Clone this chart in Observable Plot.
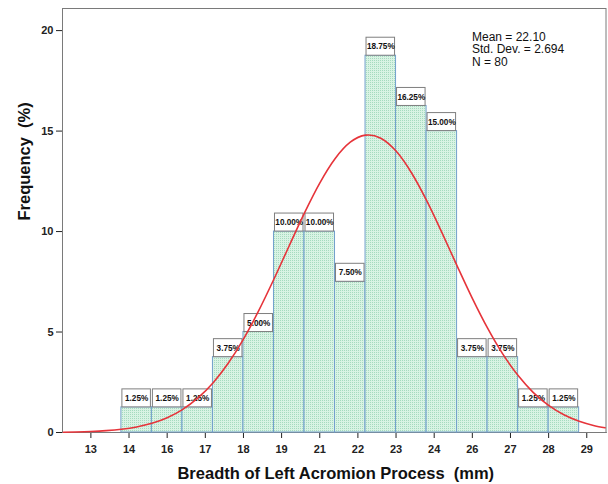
<!DOCTYPE html>
<html>
<head>
<meta charset="utf-8">
<script src="https://cdn.jsdelivr.net/npm/d3@7"></script>
<script src="https://cdn.jsdelivr.net/npm/@observablehq/plot@0.6"></script>
<style>
  html, body { margin: 0; padding: 0; background: #fff; }
  svg text { white-space: pre; }
</style>
</head>
<body>
<div id="chart"></div>
<script>
// Histogram bins (mm) and percentage frequencies
const binStart = [14, 15, 16, 17, 18, 19, 20, 21, 22, 23, 24, 25, 26, 27, 28];
const binEnd   = [15, 16, 17, 18, 19, 20, 21, 22, 23, 24, 25, 26, 27, 28, 29];
const percent  = [1.25, 1.25, 1.25, 3.75, 5.00, 10.00, 10.00, 7.50, 18.75, 16.25, 15.00, 3.75, 3.75, 1.25, 1.25];

// Fitted normal curve (x in mm, y in %)
const curveX = [12.1, 12.5, 13, 13.5, 14, 14.5, 15, 15.5, 16, 16.5, 17, 17.5, 18, 18.5, 19, 19.5, 20, 20.5, 21, 21.5, 22, 22.1, 22.5, 23, 23.5, 24, 24.5, 25, 25.5, 26, 26.5, 27, 27.5, 28, 28.5, 29, 29.5, 29.85];
const curveY = [0.015, 0.026, 0.049, 0.091, 0.161, 0.277, 0.459, 0.737, 1.141, 1.707, 2.467, 3.446, 4.651, 6.064, 7.638, 9.295, 10.929, 12.413, 13.623, 14.445, 14.798, 14.808, 14.646, 14.004, 12.938, 11.547, 9.958, 8.296, 6.678, 5.193, 3.901, 2.832, 1.986, 1.346, 0.881, 0.557, 0.340, 0.236];

// Axis ticks
const xTickValues = [13, 14.25, 15.5, 16.75, 18, 19.25, 20.5, 21.75, 23, 24.25, 25.5, 26.75, 28, 29.25];
const xTickLabels = ["13", "14", "16", "17", "18", "19", "21", "22", "23", "24", "26", "27", "28", "29"];
const yTickValues = [0, 5, 10, 15, 20];

const statsLines = ["Mean = 22.10", "Std. Dev. = 2.694", "N = 80"];
const xTitle = "Breadth of Left Acromion Process  (mm)";
const yTitle = "Frequency  (%)";

const bars = binStart.map((s, i) => ({x0: s, x1: binEnd[i], pct: percent[i], label: percent[i].toFixed(2) + "%"}));
const curve = curveX.map((x, i) => ({x, y: curveY[i]}));

const FONT = "Arial, 'Liberation Sans', sans-serif";

const statMarks = statsLines.map((t, i) =>
  Plot.text([t], {frameAnchor: "top-left", dx: 409.5, dy: 23.7 + 12.6 * i, lineAnchor: "top", textAnchor: "start", fontSize: 12, fontWeight: "normal", fill: "#111", fontFamily: FONT})
);

const svg = Plot.plot({
  width: 608,
  height: 484,
  marginLeft: 62,
  marginRight: 2.5,
  marginTop: 8,
  marginBottom: 52,
  style: {fontFamily: FONT, fontSize: "11px", fontWeight: "bold", color: "#222", background: "#fff"},
  x: {
    domain: [12.07, 29.88],
    ticks: xTickValues,
    tickFormat: d => xTickLabels[xTickValues.indexOf(d)],
    tickSize: 6,
    tickPadding: 7,
    label: null,
    line: true
  },
  y: {
    domain: [0, 21.1],
    ticks: yTickValues,
    tickSize: 6,
    tickPadding: 3,
    label: null,
    line: true
  },
  marks: [
    Plot.frame({stroke: "#7a7a7a"}),
    Plot.rectY(bars, {x1: "x0", x2: "x1", y1: 0, y2: "pct", fill: "url(#dots)", stroke: "#72a0cc", strokeWidth: 1}),
    Plot.rect(bars, {x1: "x0", x2: "x1", y1: "pct", y2: "pct", insetTop: -18, insetBottom: 0, insetLeft: 1, insetRight: 1, fill: "#fff", stroke: "#7f7f7f", strokeWidth: 1}),
    Plot.text(bars, {x: d => (d.x0 + d.x1) / 2, y: "pct", text: "label", dy: -9, fontSize: 8.2, fontWeight: "bold", fill: "#111", fontFamily: FONT}),
    Plot.line(curve, {x: "x", y: "y", stroke: "#e6343a", strokeWidth: 1.6, curve: "monotone-x"}),
    ...statMarks,
    Plot.text([xTitle], {frameAnchor: "bottom", dx: 1.5, dy: 41, lineAnchor: "middle", fontSize: 16.5, fontWeight: "bold", fill: "#111", fontFamily: FONT}),
    Plot.text([yTitle], {frameAnchor: "left", dx: -38, rotate: -90, lineAnchor: "middle", fontSize: 16.5, fontWeight: "bold", fill: "#111", fontFamily: FONT})
  ]
});

// Dotted fill pattern for the bars
const ns = "http://www.w3.org/2000/svg";
const defs = document.createElementNS(ns, "defs");
const pat = document.createElementNS(ns, "pattern");
pat.setAttribute("id", "dots");
pat.setAttribute("patternUnits", "userSpaceOnUse");
pat.setAttribute("width", "2");
pat.setAttribute("height", "2");
const bg = document.createElementNS(ns, "rect");
bg.setAttribute("width", "2"); bg.setAttribute("height", "2"); bg.setAttribute("fill", "#d9f3e4");
const dot = document.createElementNS(ns, "rect");
dot.setAttribute("width", "1"); dot.setAttribute("height", "1"); dot.setAttribute("fill", "#a6dbbf");
pat.appendChild(bg); pat.appendChild(dot); defs.appendChild(pat);
svg.insertBefore(defs, svg.firstChild);

document.getElementById("chart").appendChild(svg);
</script>
</body>
</html>
